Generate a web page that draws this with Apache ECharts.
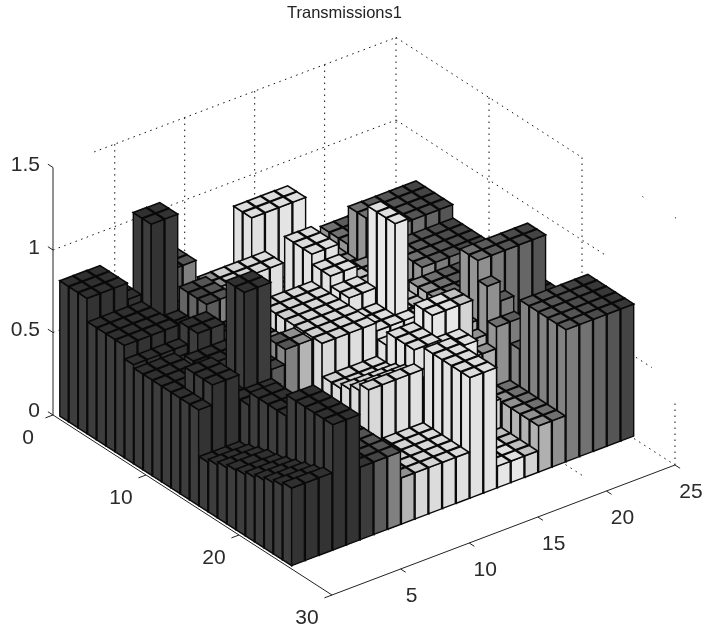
<!DOCTYPE html>
<html>
<head>
<meta charset="utf-8">
<style>html,body{margin:0;background:#fff}#main{width:703px;height:631px}</style>
<script src="https://cdn.jsdelivr.net/npm/echarts@6/dist/echarts.min.js"></script>
</head>
<body>
<div id="main"></div>
<script>
// tick labels
const xTicks = [5, 10, 15, 20, 25]
const yTicks = [0, 10, 20, 30]
const zTicks = [0, 0.5, 1, 1.5]
// gray of each column (x index), sides and tops
const columnGrays = ['#333','#333','#333','#333','#333','#3c3c3c','#5c5c5c','#808080','#b4b4b4','#d8d8d8','#dcdcdc','#dedede','#e0e0e0','#e2e2e2','#e4e4e4','#e6e6e6','#e8e8e8','#d4d4d4','#b0b0b0','#909090','#7c7c7c','#727272','#666','#555','#444']
const topGrays = ['#303030','#303030','#303030','#303030','#303030','#333','#444','#555','#909090','#d0d0d0','#d4d4d4','#d8d8d8','#dcdcdc','#dcdcdc','#dedede','#e0e0e0','#e0e0e0','#c0c0c0','#909090','#707070','#5c5c5c','#555','#4c4c4c','#444','#383838']
// bar heights, one list per row (y), 25 values along x
const row00 = [.82,.82,.82,.72,.55,.55,.55,.55,.5,.5,.5,.5,.5,.5,.5,.5,.5,.5,.5,.55,.55,.55,.55,.55,.55]
const row01 = [.82,.82,.82,.72,.55,.55,.8,.8,.5,.5,.5,.5,.93,.93,.93,.93,.5,.5,.5,.55,.55,.55,.55,.55,.55]
const row02 = [.82,.82,.82,.72,1.18,1.18,.8,.8,.5,.5,.5,.5,.93,.93,.93,.93,.5,.5,.5,.55,.55,.55,.55,.55,.55]
const row03 = [.68,.68,.68,.68,1.18,1.18,.6,.6,.7,.7,.7,.7,.7,.5,.5,.5,.5,.5,.5,.78,.78,.78,.78,.78,.55]
const row04 = [.68,.68,.68,.68,.6,.6,.74,.74,.7,.7,.7,.7,.7,.5,.5,.5,.5,.5,.5,.78,.78,.78,.78,.78,.55]
const row05 = [.68,.68,.68,.68,.6,.6,.74,.74,.5,.5,.5,.5,.5,.86,.86,.55,.55,.55,.55,.78,.78,.78,.78,.78,.55]
const row06 = [.68,.68,.68,.68,.6,.6,.74,.74,.5,.5,.5,.5,.5,.86,.86,.55,.55,.55,.55,.78,.78,.78,.78,.78,.55]
const row07 = [.6,.6,.6,.6,.7,.7,.6,.6,.5,.5,.5,.5,.5,.86,.86,.55,.55,.55,.55,.7,.7,.7,.7,.7,.55]
const row08 = [.58,.58,.58,.55,.7,.7,.6,.6,.6,.7,.7,.7,.7,.8,.8,.55,.55,.55,.55,.7,.7,.7,.7,.7,.55]
const row09 = [.58,.58,.58,.6,.6,.6,.6,.6,.6,.7,.7,.7,.7,.8,.8,.55,.55,.55,.55,.7,.7,.7,.7,.7,.55]
const row10 = [.58,.58,.58,.6,.6,.6,.6,.6,.6,.7,.7,.7,.7,.74,.74,.6,.6,.6,.6,.7,.7,.7,.7,.7,.55]
const row11 = [.58,.58,.58,.55,.55,.55,.6,.6,.6,.7,.7,.7,.7,.74,.74,1.2,.6,.6,.65,.65,.65,.65,.65,.65,.55]
const row12 = [.58,.7,.7,.55,1.13,1.13,.6,.69,.69,.7,.7,.7,.7,.65,.65,1.2,.6,.6,.65,.65,.65,.65,.65,.65,.55]
const row13 = [.58,.7,.7,.55,1.13,1.13,.6,.69,.69,.7,.7,.7,.7,.65,.65,1.2,.6,.6,.65,.65,.65,.65,.65,.65,.55]
const row14 = [.58,.7,.7,.55,.55,.55,.35,.35,.35,.7,.7,.7,.7,.65,.65,.65,.65,.65,.65,.65,.65,.65,.65,.65,.55]
const row15 = [.3,.3,.3,.55,.55,.35,.35,.35,.35,.5,.5,.5,.5,.6,.6,.6,.6,.6,.6,.96,.96,.96,.96,.96,.6]
const row16 = [.32,.32,.32,.63,.63,.35,.35,.35,.35,.5,.5,.5,.5,.68,.68,.79,.79,.79,.6,.96,.96,.96,.96,.96,.6]
const row17 = [.34,.34,.34,.63,.63,.35,.35,.35,.35,.53,.53,.53,.53,.68,.68,.79,.79,.79,.55,.84,.72,.55,.55,.55,.55]
const row18 = [.36,.36,.36,.63,.63,.35,.35,.35,.35,.56,.56,.56,.56,.68,.68,.65,.65,.5,.5,.63,.63,.5,.5,.5,.5]
const row19 = [.37,.37,.37,.63,.63,.35,.35,.35,.35,.6,.6,.6,.6,.55,.55,.65,.65,.4,.28,.28,.5,.5,.5,.5,.5]
const row20 = [.39,.39,.39,.76,.76,.44,.44,.44,.28,.28,.28,.28,.28,.73,.73,.3,.3,.3,.28,.28,.8,.8,.8,.8,.8]
const row21 = [.41,.41,.41,.76,.76,.44,.44,.44,.28,.28,.28,.28,.28,.73,.73,.13,.13,.13,.28,.28,.8,.8,.8,.8,.8]
const row22 = [.43,.43,.43,.76,.76,.44,.44,.44,.28,.28,.28,.28,.28,.73,.73,.13,.13,.13,.28,.28,.8,.8,.8,.8,.8]
const row23 = [.45,.45,.45,.76,.76,.44,.44,.44,.28,.28,.28,.28,.28,.73,.73,.13,.13,.13,.28,.28,.8,.8,.8,.8,.8]
const row24 = [.47,.47,.47,.76,.76,.44,.44,.44,.28,.28,.28,.28,.28,.73,.73,.13,.13,.13,.28,.28,.8,.8,.8,.8,.8]
const rows = [row00,row01,row02,row03,row04,row05,row06,row07,row08,row09,row10,row11,row12,row13,row14,row15,row16,row17,row18,row19,row20,row21,row22,row23,row24]

// view of the 3d box on the flat plane
const origin = [53, 415]
const xStep = [13.72, -5.2]
const yStep = [9.3, 6]
const zStep = 165
const barWidth = 0.93
const barShift = [0.2, 0.35]

const project = (api, x, y, z) => api.coord([
  origin[0] + x * xStep[0] + y * yStep[0],
  origin[1] + x * xStep[1] + y * yStep[1] - z * zStep
])

// painter's order: far rows first, in each row the far columns first
const barData = []
rows.forEach((row, iy) => {
  for (let ix = row.length - 1; ix >= 0; ix--) barData.push([ix, iy, row[ix]])
})

const renderBar = (params, api) => {
  const ix = api.value(0), iy = api.value(1), h = api.value(2)
  const gap = (1 - barWidth) / 2
  const x0 = ix + barShift[0] + gap, x1 = x0 + barWidth
  const y0 = iy + barShift[1] + gap, y1 = y0 + barWidth
  const p = (x, y, z) => project(api, x, y, z)
  const gray = columnGrays[ix]
  const face = (points, fill, lineWidth) => ({ type: 'polygon', shape: { points }, style: { fill, stroke: '#0a0a0a', lineWidth } })
  return {
    type: 'group',
    children: [
      face([p(x0, y0, 0), p(x0, y1, 0), p(x0, y1, h), p(x0, y0, h)], echarts.color.lift(gray, 0.05), 1.4),
      face([p(x0, y1, 0), p(x1, y1, 0), p(x1, y1, h), p(x0, y1, h)], gray, 1.4),
      face([p(x0, y0, h), p(x1, y0, h), p(x1, y1, h), p(x0, y1, h)], topGrays[ix], 1.6)
    ]
  }
}

// box lines, from and to in chart units: x, y, z
const dottedLines = [
  [3, 0, 1.5, 25, 0, 1.5], [0, 0, 1, 25, 0, 1], [0, 0, 0.5, 25, 0, 0.5],
  [4.5, 0, 0, 4.5, 0, 1.5], [9.6, 0, 0, 9.6, 0, 1.5], [14.7, 0, 0, 14.7, 0, 1.5], [19.8, 0, 0, 19.8, 0, 1.5], [25, 0, 0, 25, 0, 1.5],
  [25, 0, 1.5, 25, 20, 1.5], [25, 0, 1, 25, 22.5, 1], [25, 25.8, 0.5, 25, 27.5, 0.5],
  [25, 10, 0, 25, 10, 1.5], [25, 20, 0, 25, 20, 1.5], [25, 30, 0, 25, 30, 0.38],
  [25, 26.5, 1.5, 25, 26.6, 1.5], [25, 30, 1.5, 25, 30.1, 1.5],
  [20, 25.6, 0, 20, 27.6, 0], [25, 25.6, 0, 25, 30, 0]
]
const solidLines = [
  [0, 0, 0, 0, 0, 1.5], [0, 0, 0, 0, 30, 0], [0, 30, 0, 25, 30, 0]
]
const tickLen = 0.55
zTicks.forEach(t => solidLines.push([0, 0, t, 0, -tickLen, t]))
yTicks.forEach(t => solidLines.push([0, t, 0, -tickLen, t, 0]))
xTicks.forEach(t => solidLines.push([t, 30, 0, t, 30 + tickLen, 0]))

const renderLine = style => (params, api) => {
  const a = project(api, api.value(0), api.value(1), api.value(2))
  const b = project(api, api.value(3), api.value(4), api.value(5))
  return { type: 'line', shape: { x1: a[0], y1: a[1], x2: b[0], y2: b[1] }, style }
}

// tick labels, offset from the tick's place on the picture
const labelData = [
  ...zTicks.map(t => [0, 0, t, String(t), -13, t === 0 ? -4 : -2, 'right']),
  ...yTicks.map(t => [0, t, 0, String(t), -25, 23, 'center']),
  ...xTicks.map(t => [t, 30, 0, String(t), t === 5 ? 11 : 16, 27, 'center'])
]
const renderLabel = (params, api) => {
  const d = labelData[params.dataIndex]
  const at = project(api, d[0], d[1], d[2])
  return {
    type: 'text',
    style: {
      x: at[0] + d[4], y: at[1] + d[5], text: d[3], fill: '#2a2a2a',
      font: '21px "Liberation Sans"', align: d[6], verticalAlign: 'middle'
    }
  }
}

const chart = echarts.init(document.getElementById('main'))
chart.setOption({
  animation: false,
  backgroundColor: '#fff',
  title: {
    text: 'Transmissions1', left: 282, top: 0,
    textStyle: { color: '#222', fontFamily: 'Liberation Sans', fontSize: 16.5, fontWeight: 'normal' }
  },
  grid: { left: 0, right: 0, top: 0, bottom: 0 },
  xAxis: { type: 'value', min: 0, max: 703, show: false },
  yAxis: { type: 'value', min: 0, max: 631, inverse: true, show: false },
  series: [
    { type: 'custom', silent: true, clip: false, data: dottedLines, renderItem: renderLine({ stroke: '#111', lineWidth: 1, lineDash: [1.5, 4.5] }) },
    { type: 'custom', silent: true, clip: false, data: solidLines, renderItem: renderLine({ stroke: '#222', lineWidth: 1 }) },
    { type: 'custom', silent: true, clip: false, progressive: 0, data: barData, renderItem: renderBar },
    { type: 'custom', silent: true, clip: false, data: labelData.map(d => d.slice(0, 3)), renderItem: renderLabel }
  ]
})
</script>
</body>
</html>
